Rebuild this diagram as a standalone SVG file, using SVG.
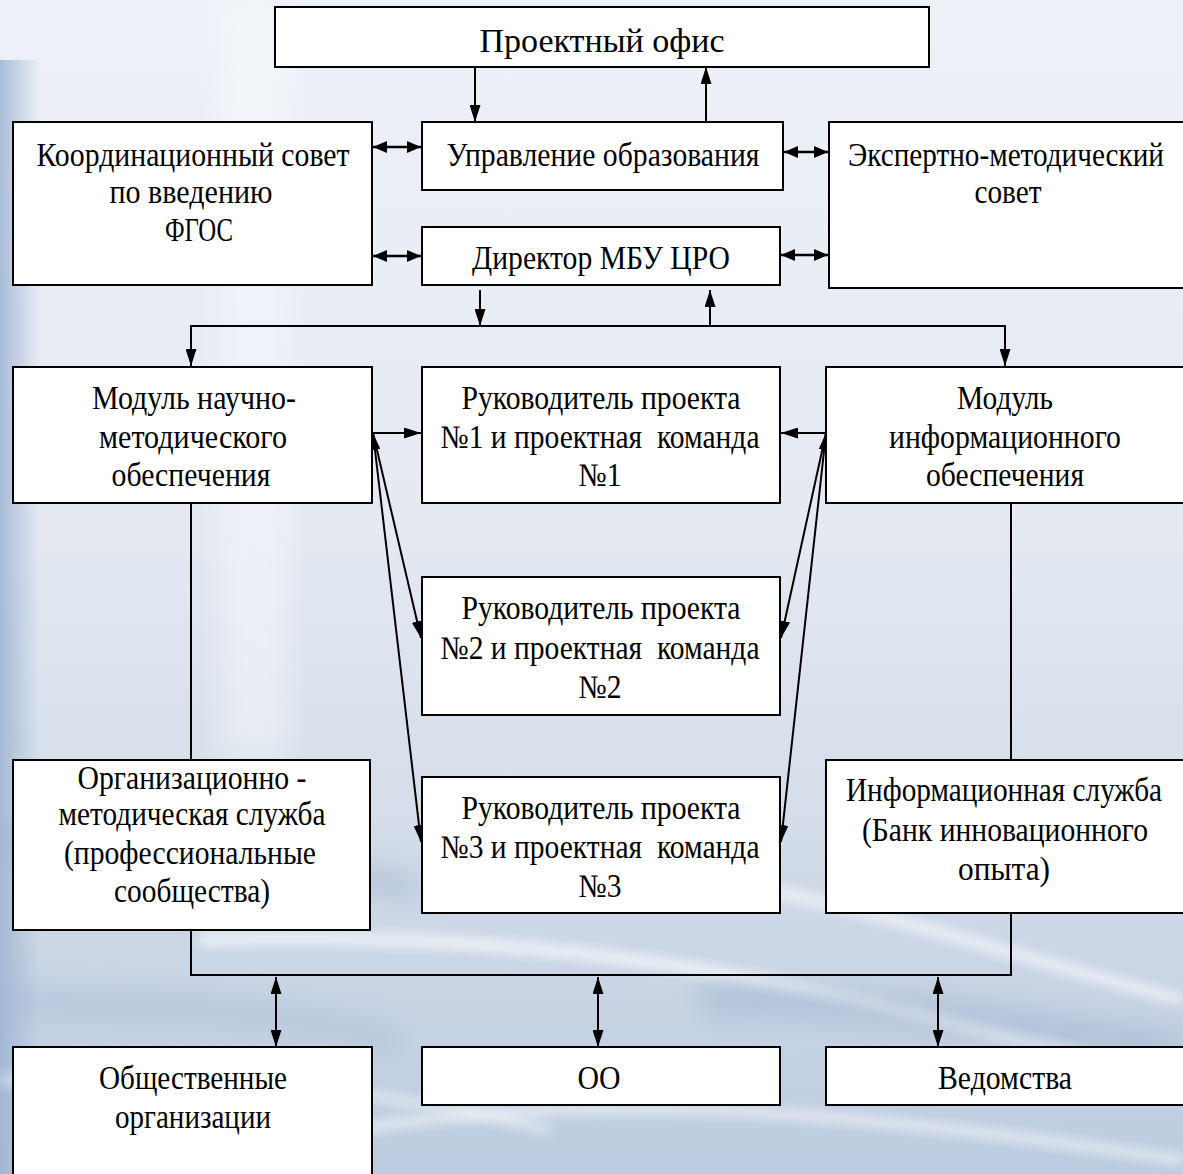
<svg xmlns="http://www.w3.org/2000/svg" width="1183" height="1174" viewBox="0 0 1183 1174">
<defs>
<linearGradient id="bg" x1="0" y1="0" x2="0" y2="1">
<stop offset="0" stop-color="#eef1f7"/>
<stop offset="0.45" stop-color="#e4e9f2"/>
<stop offset="0.7" stop-color="#d4dde9"/>
<stop offset="1" stop-color="#bccbdf"/>
</linearGradient>
<linearGradient id="leftband" x1="0" y1="0" x2="1" y2="0">
<stop offset="0" stop-color="#9db4d2" stop-opacity="0.85"/>
<stop offset="1" stop-color="#9db4d2" stop-opacity="0"/>
</linearGradient>
<filter id="blur" x="-20%" y="-50%" width="140%" height="200%"><feGaussianBlur stdDeviation="6"/></filter>
<filter id="blur2" x="-20%" y="-50%" width="140%" height="200%"><feGaussianBlur stdDeviation="14"/></filter>
<marker id="ah" viewBox="0 0 14 12" refX="14" refY="6" markerWidth="14" markerHeight="12" markerUnits="userSpaceOnUse" orient="auto-start-reverse">
<path d="M0,0 L14,6 L0,12 Z" fill="#000"/>
</marker>
<marker id="ahv" viewBox="0 0 17 11" refX="17" refY="5.5" markerWidth="17" markerHeight="11" markerUnits="userSpaceOnUse" orient="auto-start-reverse">
<path d="M0,0 L17,5.5 L0,11 Z" fill="#000"/>
</marker>
</defs>
<style>
.box{fill:#fff;stroke:#000;stroke-width:2}
.t{font-family:'Liberation Serif', serif;font-size:33px;fill:#000;text-anchor:middle}
.c{fill:none;stroke:#000;stroke-width:2}
.cb{fill:none;stroke:#000;stroke-width:2.5}
</style>
<g id="background">
<rect x="0" y="0" width="1183" height="1174" fill="url(#bg)"/>
<rect x="0" y="60" width="40" height="1114" fill="url(#leftband)"/>
<rect x="220" y="0" width="70" height="760" fill="#f6f8fc" opacity="0.5" filter="url(#blur2)"/>
<path d="M0,830 C150,830 300,850 420,880 L420,900 C300,870 150,860 0,860 Z" fill="#9fb3cf" opacity="0.7" filter="url(#blur2)"/>
<path d="M0,990 C150,990 280,1000 400,1030 L400,1050 C280,1020 150,1015 0,1015 Z" fill="#a7bad4" opacity="0.6" filter="url(#blur2)"/>
<path d="M200,940 C450,930 700,960 900,1010 C1000,1035 1100,1060 1183,1080" fill="none" stroke="#ffffff" stroke-width="10" opacity="0.8" filter="url(#blur)"/>
<path d="M650,880 C800,880 950,940 1183,1000" fill="none" stroke="#ffffff" stroke-width="8" opacity="0.85" filter="url(#blur)"/>
<path d="M350,1130 C600,1090 850,1110 1183,1160" fill="none" stroke="#ffffff" stroke-width="9" opacity="0.65" filter="url(#blur)"/>
<path d="M700,1000 C900,1000 1050,1030 1183,1050" fill="none" stroke="#9cb1cd" stroke-width="30" opacity="0.55" filter="url(#blur2)"/>
<path d="M0,1080 C200,1075 400,1090 550,1130" fill="none" stroke="#ffffff" stroke-width="8" opacity="0.6" filter="url(#blur)"/>
</g>
<g id="connectors">
<line class="c" x1="475" y1="67" x2="475" y2="122" marker-end="url(#ahv)"/>
<line class="c" x1="706" y1="122" x2="706" y2="67" marker-end="url(#ahv)"/>
<line class="cb" x1="373" y1="147" x2="421" y2="147" marker-start="url(#ah)" marker-end="url(#ah)"/>
<line class="cb" x1="373" y1="256" x2="421" y2="256" marker-start="url(#ah)" marker-end="url(#ah)"/>
<line class="cb" x1="784" y1="152" x2="828" y2="152" marker-start="url(#ah)" marker-end="url(#ah)"/>
<line class="cb" x1="781" y1="255" x2="828" y2="255" marker-start="url(#ah)" marker-end="url(#ah)"/>
<line class="c" x1="480" y1="290" x2="480" y2="326" marker-end="url(#ahv)"/>
<line class="c" x1="710" y1="326" x2="710" y2="290" marker-end="url(#ahv)"/>
<path class="c" d="M191,366 V326 H1005 V366" marker-start="url(#ahv)" marker-end="url(#ahv)"/>
<line class="c" x1="373" y1="433" x2="421" y2="433" marker-end="url(#ahv)"/>
<line class="c" x1="826" y1="433" x2="781" y2="433" marker-end="url(#ahv)"/>
<line class="c" x1="373" y1="433" x2="421" y2="638" marker-end="url(#ahv)"/>
<line class="c" x1="373" y1="433" x2="421" y2="842" marker-start="url(#ahv)" marker-end="url(#ahv)"/>
<line class="c" x1="826" y1="433" x2="781" y2="638" marker-end="url(#ahv)"/>
<line class="c" x1="826" y1="433" x2="781" y2="842" marker-start="url(#ahv)" marker-end="url(#ahv)"/>
<line class="c" x1="191" y1="503" x2="191" y2="760"/>
<line class="c" x1="1011" y1="503" x2="1011" y2="760"/>
<path class="c" d="M191,930 V975 H1011 V913"/>
<line class="c" x1="276" y1="977" x2="276" y2="1047" marker-start="url(#ahv)" marker-end="url(#ahv)"/>
<line class="c" x1="598" y1="977" x2="598" y2="1047" marker-start="url(#ahv)" marker-end="url(#ahv)"/>
<line class="c" x1="938" y1="977" x2="938" y2="1047" marker-start="url(#ahv)" marker-end="url(#ahv)"/>
</g>
<g id="n-office">
<rect class="box" x="275" y="7" width="654" height="60"/>
<text class="t" x="602" y="52" textLength="245" lengthAdjust="spacingAndGlyphs">Проектный офис</text>
</g>
<g id="n-coord">
<rect class="box" x="13" y="122" width="359" height="163"/>
<text class="t" x="193" y="166" textLength="313" lengthAdjust="spacingAndGlyphs">Координационный совет</text>
<text class="t" x="191" y="203" textLength="163" lengthAdjust="spacingAndGlyphs">по введению</text>
<text class="t" x="199" y="241" textLength="68" lengthAdjust="spacingAndGlyphs">ФГОС</text>
</g>
<g id="n-upr">
<rect class="box" x="422" y="122" width="361" height="68"/>
<text class="t" x="603" y="166" textLength="313" lengthAdjust="spacingAndGlyphs">Управление образования</text>
</g>
<g id="n-expert">
<rect class="box" x="829" y="122" width="360" height="166"/>
<text class="t" x="1006" y="166" textLength="316" lengthAdjust="spacingAndGlyphs">Экспертно-методический</text>
<text class="t" x="1008" y="203" textLength="67" lengthAdjust="spacingAndGlyphs">совет</text>
</g>
<g id="n-director">
<rect class="box" x="422" y="227" width="358" height="58"/>
<text class="t" x="601" y="269" textLength="258" lengthAdjust="spacingAndGlyphs">Директор МБУ ЦРО</text>
</g>
<g id="n-modnm">
<rect class="box" x="13" y="367" width="359" height="136"/>
<text class="t" x="194" y="409" textLength="204" lengthAdjust="spacingAndGlyphs">Модуль научно-</text>
<text class="t" x="193" y="448" textLength="188" lengthAdjust="spacingAndGlyphs">методического</text>
<text class="t" x="191" y="486" textLength="159" lengthAdjust="spacingAndGlyphs">обеспечения</text>
</g>
<g id="n-ruk1">
<rect class="box" x="422" y="367" width="358" height="136"/>
<text class="t" x="601" y="409" textLength="279" lengthAdjust="spacingAndGlyphs">Руководитель проекта</text>
<text class="t" x="600" y="448" textLength="319" lengthAdjust="spacingAndGlyphs" xml:space="preserve">№1 и проектная  команда</text>
<text class="t" x="600" y="486" textLength="43" lengthAdjust="spacingAndGlyphs">№1</text>
</g>
<g id="n-modinf">
<rect class="box" x="826" y="367" width="363" height="136"/>
<text class="t" x="1005" y="409" textLength="96" lengthAdjust="spacingAndGlyphs">Модуль</text>
<text class="t" x="1005" y="448" textLength="232" lengthAdjust="spacingAndGlyphs">информационного</text>
<text class="t" x="1005" y="486" textLength="158" lengthAdjust="spacingAndGlyphs">обеспечения</text>
</g>
<g id="n-ruk2">
<rect class="box" x="422" y="577" width="358" height="138"/>
<text class="t" x="601" y="619" textLength="279" lengthAdjust="spacingAndGlyphs">Руководитель проекта</text>
<text class="t" x="600" y="659" textLength="319" lengthAdjust="spacingAndGlyphs" xml:space="preserve">№2 и проектная  команда</text>
<text class="t" x="600" y="698" textLength="43" lengthAdjust="spacingAndGlyphs">№2</text>
</g>
<g id="n-orgmet">
<rect class="box" x="13" y="760" width="357" height="170"/>
<text class="t" x="192" y="789" textLength="229" lengthAdjust="spacingAndGlyphs">Организационно -</text>
<text class="t" x="192" y="825" textLength="267" lengthAdjust="spacingAndGlyphs">методическая служба</text>
<text class="t" x="190" y="864" textLength="252" lengthAdjust="spacingAndGlyphs">(профессиональные</text>
<text class="t" x="192" y="902" textLength="156" lengthAdjust="spacingAndGlyphs">сообщества)</text>
</g>
<g id="n-ruk3">
<rect class="box" x="422" y="777" width="358" height="136"/>
<text class="t" x="601" y="819" textLength="279" lengthAdjust="spacingAndGlyphs">Руководитель проекта</text>
<text class="t" x="600" y="858" textLength="319" lengthAdjust="spacingAndGlyphs" xml:space="preserve">№3 и проектная  команда</text>
<text class="t" x="600" y="897" textLength="43" lengthAdjust="spacingAndGlyphs">№3</text>
</g>
<g id="n-infserv">
<rect class="box" x="826" y="760" width="363" height="153"/>
<text class="t" x="1004" y="801" textLength="316" lengthAdjust="spacingAndGlyphs">Информационная служба</text>
<text class="t" x="1005" y="841" textLength="286" lengthAdjust="spacingAndGlyphs">(Банк инновационного</text>
<text class="t" x="1004" y="880" textLength="92" lengthAdjust="spacingAndGlyphs">опыта)</text>
</g>
<g id="n-obsh">
<rect class="box" x="13" y="1047" width="359" height="140"/>
<text class="t" x="193" y="1089" textLength="188" lengthAdjust="spacingAndGlyphs">Общественные</text>
<text class="t" x="193" y="1128" textLength="156" lengthAdjust="spacingAndGlyphs">организации</text>
</g>
<g id="n-oo">
<rect class="box" x="422" y="1047" width="358" height="58"/>
<text class="t" x="599" y="1089" textLength="43" lengthAdjust="spacingAndGlyphs">ОО</text>
</g>
<g id="n-ved">
<rect class="box" x="826" y="1047" width="363" height="58"/>
<text class="t" x="1005" y="1089" textLength="134" lengthAdjust="spacingAndGlyphs">Ведомства</text>
</g>
</svg>
